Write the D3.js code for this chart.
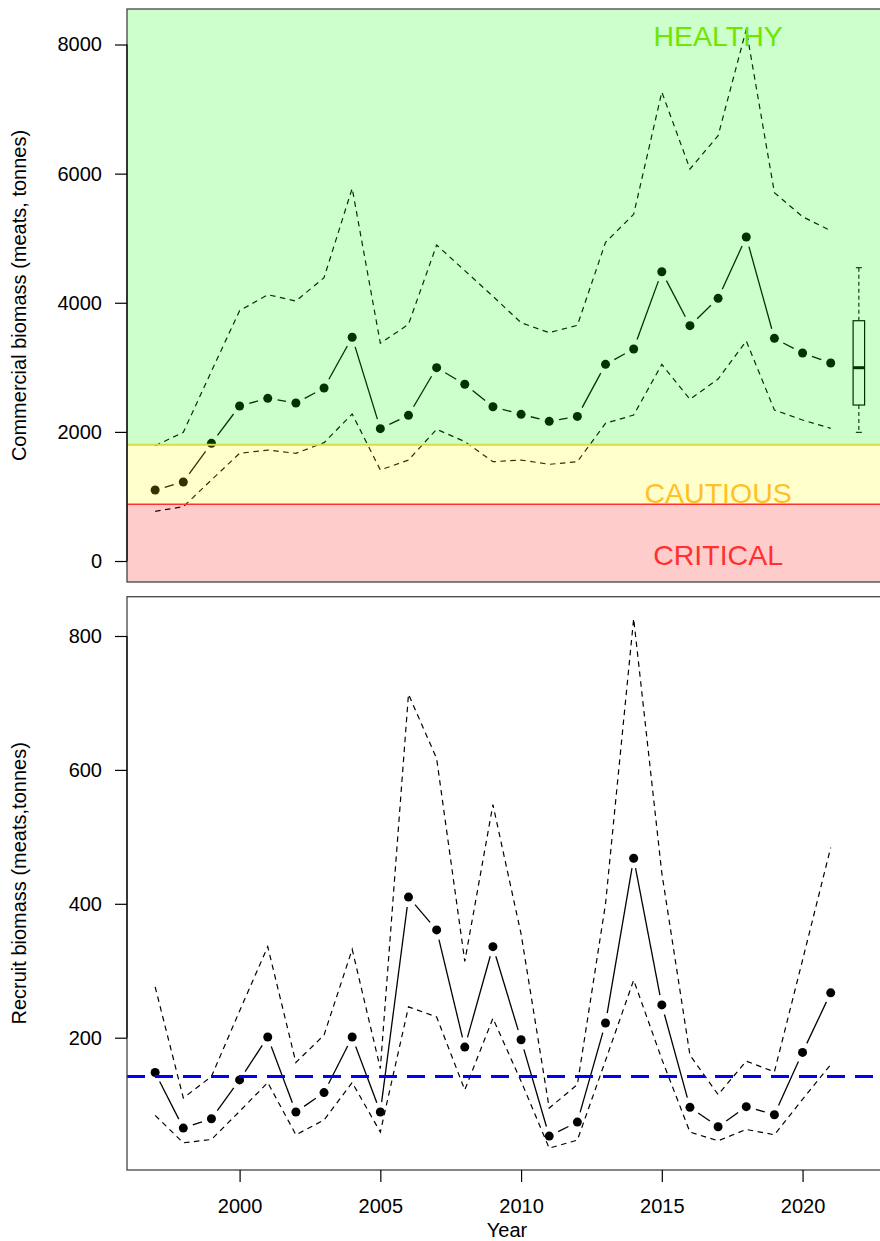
<!DOCTYPE html>
<html>
<head>
<meta charset="utf-8">
<script src="https://cdn.jsdelivr.net/npm/d3@7"></script>
<style>
body { margin: 0; background: #fff; }
text { font-family: "Liberation Sans", Arial, sans-serif; }
</style>
</head>
<body>
<svg id="chart" width="880" height="1241"></svg>
<script>
// years of the survey series
var years = [1997, 1998, 1999, 2000, 2001, 2002, 2003, 2004, 2005, 2006, 2007, 2008, 2009,
             2010, 2011, 2012, 2013, 2014, 2015, 2016, 2017, 2018, 2019, 2020, 2021];

// commercial biomass (meats, t) with upper / lower bounds
var commercial = [1100, 1224, 1823, 2401, 2520, 2447, 2680, 3465, 2050, 2256, 2995, 2737, 2390,
                  2272, 2163, 2240, 3046, 3284, 4481, 3645, 4069, 5019, 3449, 3222, 3067];
var commUpper  = [1786, 1993, 2940, 3877, 4125, 4027, 4388, 5773, 3372, 3666, 4895, 4497, 4100,
                  3691, 3537, 3650, 4936, 5370, 7264, 6072, 6588, 8235, 5705, 5333, 5116];
var commLower  = [770, 841, 1255, 1668, 1719, 1668, 1833, 2277, 1410, 1564, 2040, 1850, 1538,
                  1564, 1498, 1538, 2133, 2261, 3046, 2504, 2819, 3408, 2339, 2184, 2055];

// recruit biomass (meats, t) with upper / lower bounds
var recruit  = [148, 65, 79, 137, 201, 89, 118, 201, 89, 410, 361, 186, 336,
                197, 53, 74, 222, 468, 249, 96, 67, 97, 85, 178, 267];
var recUpper = [276, 110, 142, 240, 336, 163, 204, 332, 154, 713, 617, 314, 548,
                355, 95, 130, 400, 826, 446, 174, 115, 165, 149, 316, 484];
var recLower = [84, 43, 48, 90, 133, 55, 77, 133, 59, 246, 231, 122, 229,
                135, 35, 47, 166, 286, 168, 59, 46, 63, 55, 108, 160];

// boxplot summary shown at the right of the top panel: min, q1, median, q3, max
var boxStats = [1993, 2416, 2994, 3722, 4543];
var boxYear = 2022;

// reference points
var usr = 1800, lrp = 880;
var recruitRef = 142;

var zones = ['HEALTHY', 'CAUTIOUS', 'CRITICAL'];
var zoneLabelY = [8140, 1060, 90];
var zoneLabelYear = 2017;

var topTicks = [0, 2000, 4000, 6000, 8000];
var botTicks = [200, 400, 600, 800];
var xTicks = [2000, 2005, 2010, 2015, 2020];

var svg = d3.select('#chart');

var left = 127, right = 887;
var x = d3.scaleLinear().domain([1996, 2023]).range([left, right]);
var yTop = d3.scaleLinear().domain([-325, 8550]).range([582, 9]);
var yBot = d3.scaleLinear().domain([2.4, 858.7]).range([1170, 596.7]);

var fontSize = '20px';

function dashLine(g, vals, y) {
    var line = d3.line()
        .x(function (d, i) { return x(years[i]); })
        .y(function (d) { return y(d); });
    g.append('path')
        .attr('d', line(vals))
        .attr('fill', 'none')
        .attr('stroke', '#000')
        .attr('stroke-width', 1.2)
        .attr('stroke-dasharray', '5.5,4.5');
}

// R type="b": points joined by lines that stop short of each point
function pointLine(g, vals, y) {
    var gap = 10;
    var pts = vals.map(function (v, i) { return [x(years[i]), y(v)]; });
    for (var i = 0; i < pts.length - 1; i++) {
        var a = pts[i], b = pts[i + 1];
        var dx = b[0] - a[0], dy = b[1] - a[1];
        var len = Math.hypot(dx, dy);
        if (len <= 2 * gap) continue;
        var ux = dx / len, uy = dy / len;
        g.append('line')
            .attr('x1', a[0] + ux * gap).attr('y1', a[1] + uy * gap)
            .attr('x2', b[0] - ux * gap).attr('y2', b[1] - uy * gap)
            .attr('stroke', '#000')
            .attr('stroke-width', 1.3);
    }
    g.selectAll('circle.pt')
        .data(vals)
        .enter()
        .append('circle')
        .attr('class', 'pt')
        .attr('cx', function (d, i) { return x(years[i]); })
        .attr('cy', function (d) { return y(d); })
        .attr('r', 4.5)
        .attr('fill', '#000');
}

function yAxis(y, ticks) {
    var g = svg.append('g')
        .attr('transform', 'translate(' + left + ',0)')
        .call(d3.axisLeft(y).tickValues(ticks).tickSize(12).tickPadding(13).tickFormat(d3.format('d')));
    g.select('.domain').remove();
    g.selectAll('line').attr('stroke', '#000').attr('stroke-width', 1.2);
    g.selectAll('text').attr('font-size', fontSize).attr('fill', '#000')
        .attr('font-family', '"Liberation Sans", Arial, sans-serif');
    // R axis line spans first to last tick
    g.append('line')
        .attr('x1', 0).attr('x2', 0)
        .attr('y1', y(ticks[0])).attr('y2', y(ticks[ticks.length - 1]))
        .attr('stroke', '#000').attr('stroke-width', 1.2);
}

// ---------- top panel ----------
svg.append('clipPath').attr('id', 'clipTop')
    .append('rect').attr('x', left).attr('y', 9).attr('width', right - left).attr('height', 573);

var topG = svg.append('g').attr('clip-path', 'url(#clipTop)');

dashLine(topG, commUpper, yTop);
dashLine(topG, commLower, yTop);
pointLine(topG, commercial, yTop);

// boxplot
var bx = x(boxYear), bw = 11.5;
var box = topG.append('g').attr('stroke', '#000').attr('fill', 'none');
box.append('line').attr('x1', bx).attr('x2', bx)
    .attr('y1', yTop(boxStats[4])).attr('y2', yTop(boxStats[3]))
    .attr('stroke-width', 1.1).attr('stroke-dasharray', '4,3');
box.append('line').attr('x1', bx).attr('x2', bx)
    .attr('y1', yTop(boxStats[1])).attr('y2', yTop(boxStats[0]))
    .attr('stroke-width', 1.1).attr('stroke-dasharray', '4,3');
box.append('line').attr('x1', bx - 3).attr('x2', bx + 3)
    .attr('y1', yTop(boxStats[4])).attr('y2', yTop(boxStats[4])).attr('stroke-width', 1.1);
box.append('line').attr('x1', bx - 3).attr('x2', bx + 3)
    .attr('y1', yTop(boxStats[0])).attr('y2', yTop(boxStats[0])).attr('stroke-width', 1.1);
box.append('rect').attr('x', bx - bw / 2).attr('width', bw)
    .attr('y', yTop(boxStats[3])).attr('height', yTop(boxStats[1]) - yTop(boxStats[3]))
    .attr('stroke-width', 1.2);
box.append('line').attr('x1', bx - bw / 2).attr('x2', bx + bw / 2)
    .attr('y1', yTop(boxStats[2])).attr('y2', yTop(boxStats[2])).attr('stroke-width', 3);

// translucent status zones drawn over the data
topG.append('rect').attr('x', left).attr('width', right - left)
    .attr('y', yTop(8550)).attr('height', yTop(usr) - yTop(8550))
    .attr('fill', 'rgb(0,255,0)').attr('fill-opacity', 0.2);
topG.append('rect').attr('x', left).attr('width', right - left)
    .attr('y', yTop(usr)).attr('height', yTop(lrp) - yTop(usr))
    .attr('fill', 'rgb(255,255,0)').attr('fill-opacity', 0.2);
topG.append('rect').attr('x', left).attr('width', right - left)
    .attr('y', yTop(lrp)).attr('height', yTop(-325) - yTop(lrp))
    .attr('fill', 'rgb(255,0,0)').attr('fill-opacity', 0.2);

topG.append('line').attr('x1', left).attr('x2', right)
    .attr('y1', yTop(usr)).attr('y2', yTop(usr))
    .attr('stroke', '#d9dc3f').attr('stroke-width', 2);
topG.append('line').attr('x1', left).attr('x2', right)
    .attr('y1', yTop(lrp)).attr('y2', yTop(lrp))
    .attr('stroke', '#ff3030').attr('stroke-width', 1.4);

var zoneColors = ['#6ee600', '#ffc125', '#ff3030'];
topG.selectAll('text.zone')
    .data(zones)
    .enter()
    .append('text')
    .attr('class', 'zone')
    .attr('x', x(zoneLabelYear))
    .attr('y', function (d, i) { return yTop(zoneLabelY[i]); })
    .attr('dy', '0.36em')
    .attr('text-anchor', 'middle')
    .attr('font-size', '28.5px')
    .attr('fill', function (d, i) { return zoneColors[i]; })
    .text(function (d) { return d; });

svg.append('rect').attr('x', left).attr('y', 9).attr('width', right - left).attr('height', 573)
    .attr('fill', 'none').attr('stroke', '#444').attr('stroke-width', 1.3);
yAxis(yTop, topTicks);

svg.append('text')
    .attr('transform', 'translate(26,' + (9 + 573 / 2) + ') rotate(-90)')
    .attr('text-anchor', 'middle')
    .attr('font-size', fontSize)
    .text('Commercial biomass (meats, tonnes)');

// ---------- bottom panel ----------
svg.append('clipPath').attr('id', 'clipBot')
    .append('rect').attr('x', left).attr('y', 596.7).attr('width', right - left).attr('height', 573.3);

var botG = svg.append('g').attr('clip-path', 'url(#clipBot)');

dashLine(botG, recUpper, yBot);
dashLine(botG, recLower, yBot);
pointLine(botG, recruit, yBot);

botG.append('line').attr('x1', left).attr('x2', right)
    .attr('y1', yBot(recruitRef)).attr('y2', yBot(recruitRef))
    .attr('stroke', '#0000ff').attr('stroke-width', 3)
    .attr('stroke-dasharray', '18,10');

svg.append('rect').attr('x', left).attr('y', 596.7).attr('width', right - left).attr('height', 573.3)
    .attr('fill', 'none').attr('stroke', '#444').attr('stroke-width', 1.3);
yAxis(yBot, botTicks);

var xg = svg.append('g')
    .attr('transform', 'translate(0,1170)')
    .call(d3.axisBottom(x).tickValues(xTicks).tickSize(12).tickPadding(17).tickFormat(d3.format('d')));
xg.select('.domain').remove();
xg.selectAll('line').attr('stroke', '#000').attr('stroke-width', 1.2);
xg.selectAll('text').attr('font-size', fontSize).attr('fill', '#000')
    .attr('font-family', '"Liberation Sans", Arial, sans-serif');

svg.append('text')
    .attr('transform', 'translate(26,' + (596.7 + 573.3 / 2) + ') rotate(-90)')
    .attr('text-anchor', 'middle')
    .attr('font-size', fontSize)
    .text('Recruit biomass (meats,tonnes)');

svg.append('text')
    .attr('x', (left + right) / 2)
    .attr('y', 1237)
    .attr('text-anchor', 'middle')
    .attr('font-size', fontSize)
    .text('Year');
</script>
</body>
</html>
